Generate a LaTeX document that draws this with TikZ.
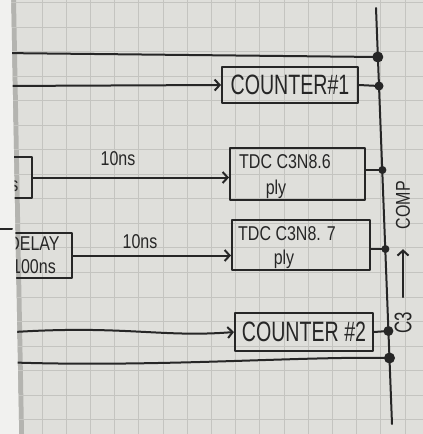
\documentclass[tikz,border=0pt]{standalone}
\usepackage{fontspec}
\newfontfamily\handC[FakeStretch=0.70]{Liberation Sans}
\newfontfamily\handT[FakeStretch=0.80]{Liberation Sans}
\usetikzlibrary{arrows.meta}
\definecolor{paper}{HTML}{DFDFDB}
\definecolor{gridc}{HTML}{C4C4C0}
\definecolor{ink}{HTML}{262626}
\definecolor{leftpage}{HTML}{F1F1EF}
\definecolor{shadow}{HTML}{B4B4B0}
\tikzset{
 pen/.style={draw=ink, line width=2pt, line cap=round, line join=round},
 box/.style={pen, rectangle, inner sep=0pt},
 arr/.style={pen, -{Straight Barb[length=5pt,width=11pt,line width=2pt]}},
 busdot/.style={fill=ink, circle, inner sep=0pt, minimum size=#1},
 cnt/.style={font=\handC\fontsize{28}{30}\selectfont, text=ink},
 tdc/.style={font=\handT\fontsize{20}{23}\selectfont, text=ink},
 lbl/.style={font=\handT\fontsize{20}{22}\selectfont, text=ink},
 gridline/.style={draw=gridc, line width=0.7pt},
}
\begin{document}
\begin{tikzpicture}[x=1pt,y=-1pt]
\useasboundingbox (0,0) rectangle (423,434);
\fill[paper] (0,0) rectangle (423,434);
\fill[shadow] (11,0) -- (16,0) -- (24,434) -- (19,434) -- cycle;
\foreach \i in {0,...,15} \draw[gridline] ({42+24.2*\i},0) -- ++(0,434);
\foreach \j in {0,...,17} \draw[gridline] (0,{2.3+24.55*\j}) -- ++(423,0);

% bus
\coordinate (bt) at (376,8);
\coordinate (bb) at (392,424);
\draw[pen] (bt) -- (bb);
\coordinate (d1) at (377.8,57);
\coordinate (d2) at (379.0,86);
\coordinate (d3) at (382.4,170);
\coordinate (d4) at (385.4,249);
\coordinate (d5) at (388.4,331);
\coordinate (d6) at (389.5,358);

% boxes
\node[box, cnt, minimum width=136, minimum height=36] (c1) at (290,85) {COUNTER\#1};
\node[box, minimum width=42, minimum height=41] (bA) at (11,177.5) {};
\node[lbl, anchor=east] (bAt) at (22,186) {ns};
\node[box, minimum width=135, minimum height=52] (t1) at (297.5,174) {};
\node[tdc, anchor=west, inner sep=0pt] (t1a) at (239,162) {TDC C3N8.6};
\node[tdc, inner sep=0pt] (t1b) at (276,189) {ply};
\node[box, tdc, minimum width=76, minimum height=45, align=center] (dl) at (34,255.5) {DELAY\\100ns};
\node[box, minimum width=138, minimum height=50] (t2) at (301,245) {};
\node[tdc, anchor=west, inner sep=0pt] (t2a) at (238,234) {TDC C3N8. 7};
\node[tdc, inner sep=0pt] (t2b) at (284,259) {ply};
\node[box, cnt, minimum width=138, minimum height=38] (c2) at (304,332) {COUNTER \#2};

\node[lbl] (l1) at (118,159) {10ns};
\node[lbl] (l2) at (140,242) {10ns};

% connectors
\coordinate (s0) at (0,53);
\draw[pen] (s0) -- (d1);
\coordinate (s1) at (0,86);
\draw[arr] (s1) -- (c1.west);
\draw[pen] (c1.east) -- (d2);
\draw[arr] (bA.east) -- (bA.east -| t1.west);
\draw[pen] (t1.east |- d3) -- (d3);
\draw[arr] (dl.east) -- (dl.east -| t2.west);
\draw[pen] (t2.east |- d4) -- (d4);
\draw[pen] (c2.east) -- (d5);
\coordinate (s4) at (0,333);
\draw[arr] (s4) .. controls (120,324) and (160,338) .. (c2.west);
\coordinate (s5) at (0,362);
\draw[pen] (s5) .. controls (150,368) and (300,356) .. (d6);

\node[busdot=11] (n1) at (d1) {};
\node[busdot=9] (n2) at (d2) {};
\node[busdot=8] (n3) at (d3) {};
\node[busdot=8] (n4) at (d4) {};
\node[busdot=10] (n5) at (d5) {};
\node[busdot=11] (n6) at (d6) {};

% right label
\node[tdc, rotate=90, inner sep=0pt] (cm) at (403,205) {COMP};
\node[font=\handC\fontsize{24}{26}\selectfont, text=ink, rotate=90, inner sep=0pt] (c3) at (403,323) {C3};
\draw[arr, shorten <=15pt, shorten >=20pt] (c3.east) -- (cm.west);

% left page
\fill[leftpage] (0,0) -- (11,0) -- (19,434) -- (0,434) -- cycle;
\coordinate (lp1) at (0,229);
\coordinate (lp2) at (12,229);
\draw[pen] (lp1) -- (lp2);
\end{tikzpicture}
\end{document}
